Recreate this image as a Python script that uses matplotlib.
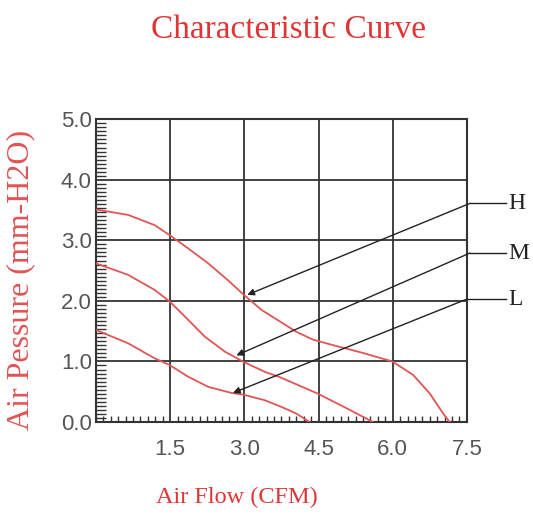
import matplotlib
matplotlib.use("Agg")
import matplotlib.pyplot as plt
from matplotlib.ticker import MultipleLocator

# fan characteristic curves (air flow CFM, pressure mm-H2O)
h_flow = [0, 0.65, 1.19, 1.5, 1.86, 2.27, 2.67, 2.99, 3.35, 3.72, 4.05, 4.39, 4.79, 5.4, 5.99, 6.41, 6.75, 7.02, 7.15]
h_pres = [3.51, 3.42, 3.25, 3.08, 2.87, 2.62, 2.34, 2.1, 1.85, 1.66, 1.49, 1.36, 1.27, 1.14, 1.0, 0.78, 0.47, 0.14, 0.0]
m_flow = [0, 0.65, 1.19, 1.49, 1.8, 2.2, 2.61, 2.99, 3.41, 3.72, 4.48, 5.06, 5.6]
m_pres = [2.62, 2.43, 2.18, 1.99, 1.74, 1.41, 1.16, 0.99, 0.83, 0.74, 0.47, 0.23, 0.0]
l_flow = [0, 0.65, 1.19, 1.49, 1.86, 2.27, 2.74, 2.99, 3.41, 3.72, 4.05, 4.32]
l_pres = [1.52, 1.3, 1.05, 0.94, 0.75, 0.58, 0.48, 0.45, 0.36, 0.26, 0.14, 0.0]

x_ticks = [1.5, 3.0, 4.5, 6.0, 7.5]
x_labels = ["1.5", "3.0", "4.5", "6.0", "7.5"]
y_ticks = [0, 1, 2, 3, 4, 5]
y_labels = ["0.0", "1.0", "2.0", "3.0", "4.0", "5.0"]

# callouts: label, arrow tip, elbow
names = ["H", "M", "L"]
tips = [(3.06, 2.1), (2.84, 1.1), (2.77, 0.48)]
elbows = [(7.56, 3.61), (7.56, 2.79), (7.5, 2.03)]
leader_end = 8.3

red = "#e03535"
grid_c = "#333333"

fig = plt.figure(figsize=(5.33, 5.14), dpi=100)
ax = fig.add_axes([0.180, 0.179, 0.696, 0.589])

for fx, py in [(h_flow, h_pres), (m_flow, m_pres), (l_flow, l_pres)]:
    ax.plot(fx, py, color="#e05555", lw=1.3, zorder=3, solid_joinstyle="round")

ax.set_xlim(0, 7.5)
ax.set_ylim(0, 5.0)
ax.set_xticks(x_ticks)
ax.set_xticklabels(x_labels)
ax.set_yticks(y_ticks)
ax.set_yticklabels(y_labels)
ax.xaxis.set_minor_locator(MultipleLocator(0.15))
ax.yaxis.set_minor_locator(MultipleLocator(1 / 15))
ax.grid(True, which="major", color=grid_c, lw=1.3)
ax.tick_params(which="major", length=0, pad=3, labelsize=16, labelcolor="#555555")
ax.tick_params(axis="x", which="major", pad=12)
ax.tick_params(which="minor", direction="in", color=grid_c, width=1.0)
ax.tick_params(axis="y", which="minor", length=7)
ax.tick_params(axis="x", which="minor", length=4)
for lab in ax.get_xticklabels() + ax.get_yticklabels():
    lab.set_family("Liberation Sans")
for s in ax.spines.values():
    s.set_color(grid_c)
    s.set_linewidth(1.5)

for name, tip, elb in zip(names, tips, elbows):
    ax.annotate("", xy=tip, xytext=elb, annotation_clip=False,
                arrowprops=dict(arrowstyle="-|>", color="#222222", lw=1.0,
                                mutation_scale=10, shrinkA=0, shrinkB=0))
    ax.plot([elb[0], leader_end], [elb[1], elb[1]], color="#222222", lw=1.0, clip_on=False)
    ax.text(leader_end + 0.03, elb[1], name, ha="left", va="center", fontsize=17,
            family="Liberation Serif", color="#222222")

fig.text(0.542, 0.942, "Characteristic Curve", ha="center", va="center",
         fontsize=24, family="Liberation Serif", color=red)
fig.text(0.445, 0.033, "Air Flow (CFM)", ha="center", va="center",
         fontsize=17.5, family="Liberation Serif", color=red)
fig.text(0.039, 0.455, "Air Pessure (mm-H2O)", ha="center", va="center", rotation=90,
         fontsize=23, family="Liberation Serif", color="#e05555")

fig.savefig("out.png", dpi=100)
